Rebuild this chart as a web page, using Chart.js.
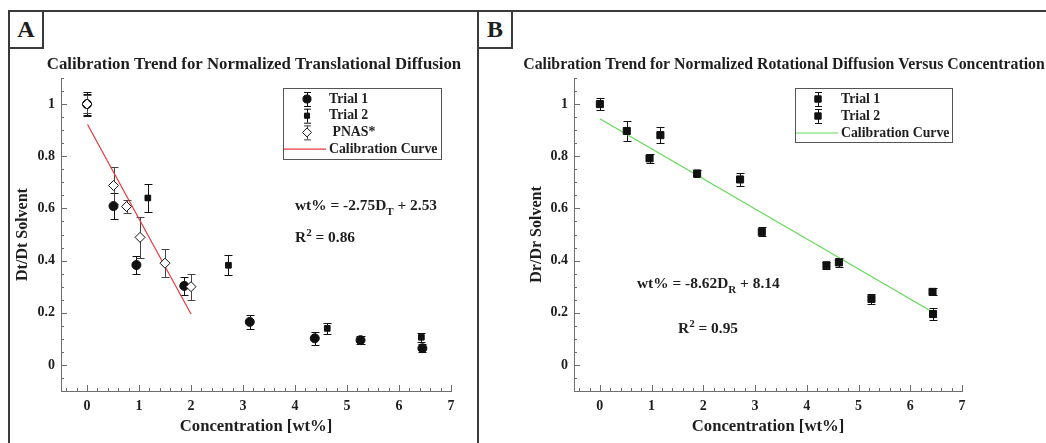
<!DOCTYPE html>
<html>
<head>
<meta charset="utf-8">
<script src="https://cdn.jsdelivr.net/npm/chart.js@4.4.0/dist/chart.umd.min.js"></script>
<style>
  html, body { margin: 0; padding: 0; background: #fff; overflow: hidden; }
  body { width: 1046px; height: 443px; position: relative; font-family: 'Liberation Serif', 'Times New Roman', serif; color: #1e1e1e; }
  .frame { position: absolute; border: 2px solid #3a3a3a; box-sizing: border-box; }
  .tag { position: absolute; border: 2px solid #3a3a3a; box-sizing: border-box; background: #fff;
         font-weight: bold; font-size: 24px; text-align: center; line-height: 35px; }
  .wrap { position: absolute; top: 0; height: 443px; }
  .note { position: absolute; font-weight: bold; font-size: 15.4px; line-height: 18px; white-space: nowrap; }
  .note sub, .note sup { font-size: 11px; line-height: 0; }
  .note sub { vertical-align: -5px; }
  .note sup { vertical-align: 6px; }
</style>
</head>
<body>
<div class="frame" style="left:8px; top:10px; width:471px; height:460px;"></div>
<div class="frame" style="left:477px; top:10px; width:600px; height:460px;"></div>
<div class="tag" style="left:8px; top:10px; width:36px; height:39px;">A</div>
<div class="tag" style="left:477px; top:10px; width:36px; height:39px;">B</div>

<div class="wrap" style="left:0; width:508px;"><canvas id="chartA" width="508" height="443"></canvas></div>
<div class="wrap" style="left:508px; width:552px;"><canvas id="chartB" width="552" height="443"></canvas></div>

<div class="note" style="left:295px; top:196px;">wt% = -2.75D<sub>T</sub> + 2.53</div>
<div class="note" style="left:295px; top:228px;">R<sup>2</sup> = 0.86</div>
<div class="note" style="left:637px; top:274px;">wt% = -8.62D<sub>R</sub> + 8.14</div>
<div class="note" style="left:678px; top:319px;">R<sup>2</sup> = 0.95</div>

<script>
// tick labels shared by both panels
const xTickVals = [0, 1, 2, 3, 4, 5, 6, 7];
const yTickVals = [0, 0.2, 0.4, 0.6, 0.8, 1];

// Panel A: normalized translational diffusion
const concT1A = [0, 0.51, 0.95, 1.87, 3.13, 4.38, 5.26, 6.45];
const dtT1 = [1.0, 0.609, 0.383, 0.303, 0.165, 0.102, 0.095, 0.064];
const dtT1Err = [0.04, 0.05, 0.035, 0.035, 0.026, 0.024, 0.015, 0.015];

const concT2A = [0, 1.17, 2.72, 4.62, 5.25, 6.43];
const dtT2 = [1.0, 0.64, 0.382, 0.14, 0.095, 0.106];
const dtT2Err = [0.046, 0.052, 0.038, 0.022, 0.015, 0.017];

const concPnas = [0, 0.51, 0.76, 1.02, 1.5, 2.0];
const dtPnas = [1.0, 0.688, 0.607, 0.489, 0.39, 0.3];
const dtPnasErr = [0.036, 0.07, 0.024, 0.08, 0.053, 0.05];

const calAx = [0.01, 2.0];
const calAy = [0.922, 0.195];

// Panel B: normalized rotational diffusion
const concT1B = [0, 0.52, 0.96, 1.88, 3.13, 4.38, 5.25, 6.44];
const drT1 = [1.0, 0.897, 0.792, 0.734, 0.51, 0.382, 0.253, 0.195];
const drT1Err = [0.024, 0.04, 0.016, 0.015, 0.017, 0.013, 0.019, 0.022];

const concT2B = [1.17, 2.71, 4.62, 6.43];
const drT2 = [0.881, 0.711, 0.393, 0.28];
const drT2Err = [0.03, 0.025, 0.018, 0.013];

const calBx = [0, 6.43];
const calBy = [0.944, 0.203];

const SERIF = "'Liberation Serif', 'Times New Roman', serif";
const pts = (xs, ys) => xs.map((x, i) => ({ x: x, y: ys[i] }));

// vertical error bars with caps, drawn under the markers
const errorBars = {
    id: 'errorBars',
    beforeDatasetsDraw(chart) {
        const ctx = chart.ctx;
        const ys = chart.scales.y;
        chart.data.datasets.forEach((ds, i) => {
            if (!ds.errors) return;
            const meta = chart.getDatasetMeta(i);
            ctx.save();
            ctx.strokeStyle = ds.errorColor || '#111';
            ctx.lineWidth = 1;
            meta.data.forEach((el, j) => {
                const v = ds.data[j].y, e = ds.errors[j];
                const top = Math.round(ys.getPixelForValue(v + e)) + 0.5;
                const bot = Math.round(ys.getPixelForValue(v - e)) + 0.5;
                const x = Math.round(el.x) + 0.5, c = 4;
                ctx.beginPath();
                ctx.moveTo(x, top); ctx.lineTo(x, bot);
                ctx.moveTo(x - c, top); ctx.lineTo(x + c, top);
                ctx.moveTo(x - c, bot); ctx.lineTo(x + c, bot);
                ctx.stroke();
            });
            ctx.restore();
        });
    }
};

// inward major/minor tick marks on both axes
const innerTicks = {
    id: 'innerTicks',
    afterDraw(chart) {
        const ctx = chart.ctx, a = chart.chartArea;
        const xs = chart.scales.x, ys = chart.scales.y;
        ctx.save();
        ctx.strokeStyle = '#6e6e6e';
        ctx.lineWidth = 1;
        ctx.beginPath();
        for (let k = -2; k <= 35; k++) {
            const px = Math.round(xs.getPixelForValue(k * 0.2)) + 0.5;
            const len = k % 5 === 0 ? 6 : 3;
            ctx.moveTo(px, a.bottom); ctx.lineTo(px, a.bottom - len);
        }
        for (let k = -2; k <= 22; k++) {
            const py = Math.round(ys.getPixelForValue(k * 0.05)) + 0.5;
            const len = k % 4 === 0 ? 6 : 3;
            ctx.moveTo(a.left, py); ctx.lineTo(a.left + len, py);
        }
        ctx.stroke();
        ctx.restore();
    }
};

// boxed legend inside the plot, symbols taken from the datasets
const boxLegend = {
    id: 'boxLegend',
    afterDraw(chart, args, o) {
        const ctx = chart.ctx;
        ctx.save();
        ctx.strokeStyle = '#555';
        ctx.lineWidth = 1;
        ctx.strokeRect(o.left + 0.5, o.top + 0.5, o.width, o.height);
        ctx.font = 'bold 13.8px ' + SERIF;
        ctx.textBaseline = 'middle';
        ctx.fillStyle = '#1e1e1e';
        chart.data.datasets.forEach((ds, i) => {
            const y = o.rowStart + i * o.rowGap;
            if (ds.showLine) {
                ctx.strokeStyle = ds.borderColor;
                ctx.lineWidth = ds.borderWidth;
                ctx.beginPath();
                ctx.moveTo(o.left + 1, y); ctx.lineTo(o.textX - 3, y);
                ctx.stroke();
            } else {
                const x = Math.round(o.symbolX) + 0.5;
                ctx.strokeStyle = ds.errorColor || '#111';
                ctx.lineWidth = 1;
                ctx.beginPath();
                ctx.moveTo(x, y - 7); ctx.lineTo(x, y + 7);
                ctx.moveTo(x - 3.5, y - 6.5); ctx.lineTo(x + 3.5, y - 6.5);
                ctx.moveTo(x - 3.5, y + 7.5); ctx.lineTo(x + 3.5, y + 7.5);
                ctx.stroke();
                ctx.fillStyle = ds.backgroundColor;
                ctx.strokeStyle = ds.borderColor;
                Chart.helpers.drawPoint(ctx, {
                    pointStyle: ds.pointStyle, radius: ds.pointRadius * 0.9,
                    rotation: 0, borderWidth: ds.borderWidth
                }, o.symbolX, y);
            }
            ctx.fillStyle = '#1e1e1e';
            ctx.fillText(ds.label, o.textX, y);
        });
        ctx.restore();
    }
};

function markerSet(label, xs, ys, errs, style, radius, fill, errColor, order) {
    return {
        label: label, data: pts(xs, ys), errors: errs, errorColor: errColor,
        pointStyle: style, pointRadius: radius, backgroundColor: fill,
        borderColor: '#111', borderWidth: 1, showLine: false, order: order
    };
}

function lineSet(label, xs, ys, color) {
    return {
        label: label, data: pts(xs, ys), showLine: true, borderColor: color,
        borderWidth: 1.2, pointRadius: 0, order: 3
    };
}

function makeChart(id, title, yTitle, datasets, geo, legend) {
    const lh = geo.titleSize * 1.2;
    return new Chart(document.getElementById(id), {
        type: 'scatter',
        data: { datasets: datasets },
        plugins: [errorBars, innerTicks, boxLegend],
        options: {
            responsive: false,
            animation: false,
            events: [],
            layout: { padding: 0 },
            plugins: {
                legend: { display: false },
                tooltip: { enabled: false },
                title: {
                    display: true, text: title, color: '#1e1e1e',
                    font: { family: SERIF, size: geo.titleSize, weight: 'bold', lineHeight: 1.2 },
                    padding: { top: 65 - lh / 2, bottom: 78 - 65 - lh / 2 }
                },
                boxLegend: legend
            },
            scales: {
                x: {
                    type: 'linear', min: -0.5, max: 7,
                    afterBuildTicks: s => { s.ticks = xTickVals.map(v => ({ value: v })); },
                    afterFit: s => { s.height = 52; },
                    grid: { display: false, drawTicks: false },
                    border: { display: true, color: '#6e6e6e', width: 1 },
                    ticks: { padding: 7, color: '#1e1e1e', font: { family: SERIF, size: 14, weight: 'bold' },
                             callback: v => String(v) },
                    title: { display: true, text: 'Concentration [wt%]', color: '#1e1e1e',
                             font: { family: SERIF, size: 16.7, weight: 'bold', lineHeight: 1.2 },
                             padding: { top: 0, bottom: 6 } }
                },
                y: {
                    type: 'linear', min: -0.1, max: 1.1,
                    afterBuildTicks: s => { s.ticks = yTickVals.map(v => ({ value: v })); },
                    afterFit: s => { s.width = geo.left; },
                    grid: { display: false, drawTicks: false },
                    border: { display: true, color: '#6e6e6e', width: 1 },
                    ticks: { padding: 6, color: '#1e1e1e', font: { family: SERIF, size: 14, weight: 'bold' },
                             callback: v => String(v) },
                    title: { display: true, text: yTitle, color: '#1e1e1e',
                             font: { family: SERIF, size: 16, weight: 'bold', lineHeight: 1.2 },
                             padding: { top: geo.yTitlePad, bottom: 0 } }
                },
                // empty right-hand gutter so the title centres on the whole canvas
                gutter: {
                    type: 'linear', position: 'right', min: 0, max: 1,
                    afterFit: s => { s.width = geo.right; },
                    grid: { display: false, drawTicks: false },
                    border: { display: false },
                    ticks: { display: false }
                }
            }
        }
    });
}

makeChart('chartA', 'Calibration Trend for Normalized Translational Diffusion', 'Dt/Dt Solvent', [
    markerSet('Trial 1', concT1A, dtT1, dtT1Err, 'circle', 4.5, '#111', '#111', 1),
    markerSet('Trial 2', concT2A, dtT2, dtT2Err, 'rect', 4, '#111', '#111', 2),
    markerSet(' PNAS*', concPnas, dtPnas, dtPnasErr, 'rectRot', 5, '#fff', '#444', 0),
    lineSet('Calibration Curve', calAx, calAy, '#e5393c')
], { left: 61, right: 57, yTitlePad: 13.4, titleSize: 16.8 },
   { left: 283, top: 88, width: 158, height: 71, rowStart: 99, rowGap: 16.7, symbolX: 307, textX: 329 });

makeChart('chartB', 'Calibration Trend for Normalized Rotational Diffusion Versus Concentration', 'Dr/Dr Solvent', [
    markerSet('Trial 1', concT1B, drT1, drT1Err, 'rect', 5, '#111', '#111', 1),
    markerSet('Trial 2', concT2B, drT2, drT2Err, 'rect', 5, '#111', '#111', 2),
    lineSet('Calibration Curve', calBx, calBy, '#62dc55')
], { left: 66, right: 98, yTitlePad: 19.4, titleSize: 15.8 },
   { left: 287, top: 88, width: 157, height: 54, rowStart: 99, rowGap: 17, symbolX: 310, textX: 333 });
</script>
</body>
</html>
